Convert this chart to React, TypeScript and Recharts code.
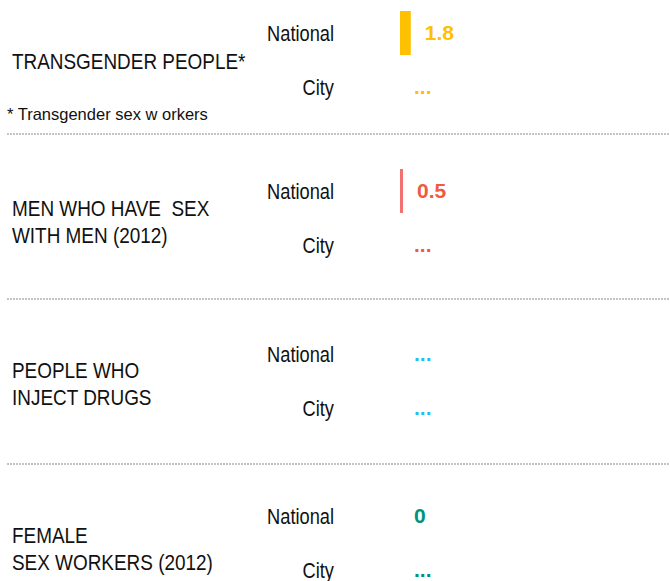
import { Bar, BarChart, LabelList, XAxis, YAxis } from "recharts";

const groups = ["TRANSGENDER PEOPLE*", "MEN WHO HAVE  SEX|WITH MEN (2012)", "PEOPLE WHO|INJECT DRUGS", "FEMALE|SEX WORKERS (2012)"];
const rows = ["National", "City"];
const nationalValues: (number | null)[] = [1.8, 0.5, null, 0];
const cityValues: (number | null)[] = [null, null, null, null];
const barColors = ["#FFC000", "#F27070", "#1EC3F2", "#00927F"];
const labelColors = ["#FFC000", "#F05A3E", "#1EC3F2", "#00927F"];
const footnote = "* Transgender sex w orkers";

const sans = "'Liberation Sans', Arial, sans-serif";
const squeeze = 0.83;

// center of the "National" row in each block
const rowTops = [33, 191, 354, 516];
const labelOffsets = [28, 31, 30, 33];
const separators = [134, 299, 464];

function RowTick(props: any) {
  const { x, y, payload } = props;
  return (
    <text
      transform={`translate(${x},${y}) scale(${squeeze},1)`}
      textAnchor="end"
      dy="0.355em"
      fontFamily={sans}
      fontSize={22}
      fill="#111"
    >
      {payload.value}
    </text>
  );
}

function Block({ index }: { index: number }) {
  const data = rows.map((name, i) => {
    const v = i === 0 ? nationalValues[index] : cityValues[index];
    return { name, value: v ?? 0, label: v == null ? "..." : String(v) };
  });
  const lines = groups[index].split("|");

  return (
    <>
      <div
        style={{
          position: "absolute",
          left: 12,
          top: rowTops[index] + labelOffsets[index] - (lines.length * 27) / 2,
          fontFamily: sans,
          fontSize: 22,
          lineHeight: "27px",
          color: "#111",
          whiteSpace: "pre",
          transform: "scaleX(0.86)",
          transformOrigin: "0 0",
        }}
      >
        {lines.map((l) => (
          <div key={l}>{l}</div>
        ))}
      </div>
      <div style={{ position: "absolute", left: 0, top: rowTops[index] - 27 }}>
        <BarChart width={670} height={108} data={data} layout="vertical" margin={{ top: 0, right: 0, bottom: 0, left: 0 }}>
          <XAxis type="number" domain={[0, 45]} hide />
          <YAxis
            type="category"
            dataKey="name"
            width={400}
            axisLine={false}
            tickLine={false}
            tickSize={0}
            tickMargin={66}
            tick={<RowTick />}
          />
          <Bar dataKey="value" fill={barColors[index]} barSize={44} minPointSize={0.01} isAnimationActive={false}>
            <LabelList
              dataKey="label"
              position="right"
              offset={14}
              fill={labelColors[index]}
              fontFamily={sans}
              fontSize={21}
              fontWeight="bold"
            />
          </Bar>
        </BarChart>
      </div>
    </>
  );
}

export default function App() {
  return (
    <div style={{ position: "absolute", left: 0, top: 0, width: 670, height: 581, overflow: "hidden", background: "#fff" }}>
      {groups.map((_, i) => (
        <Block key={i} index={i} />
      ))}
      <div style={{ position: "absolute", left: 7, top: 105, fontFamily: sans, fontSize: 16.5, color: "#111", whiteSpace: "pre" }}>
        {footnote}
      </div>
      <svg width={670} height={581} style={{ position: "absolute", left: 0, top: 0, pointerEvents: "none" }}>
        {separators.map((y) => (
          <line key={y} x1={7} x2={670} y1={y} y2={y} stroke="#C4C4C4" strokeWidth={2} strokeDasharray="2 1" />
        ))}
      </svg>
    </div>
  );
}
